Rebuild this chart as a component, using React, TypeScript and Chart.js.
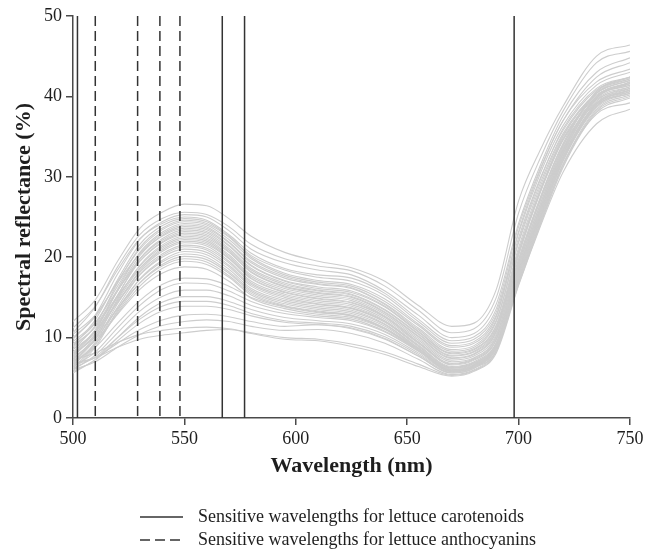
import { useEffect, useRef } from 'react';
import { Chart, registerables } from 'chart.js';

Chart.register(...registerables);

const WAVELENGTHS = [500, 510, 520, 530, 540, 550, 560, 570, 580, 595, 610, 625, 640, 655, 670, 680, 690, 700, 710, 720, 735, 750];

// Spectral reflectance (%) of each lettuce sample
const S01 = [12.0, 14.7, 19.5, 23.6, 25.6, 26.6, 26.4, 24.8, 22.6, 20.6, 19.5, 18.7, 17.0, 14.0, 11.4, 11.8, 16.0, 27.0, 33.5, 38.8, 45.0, 46.4];
const S02 = [10.6, 13.8, 18.8, 22.8, 24.8, 25.6, 25.3, 23.8, 21.6, 19.8, 18.9, 18.3, 16.4, 13.4, 10.6, 11.1, 15.0, 25.5, 32.5, 38.2, 44.2, 45.6];
const S03 = [9.8, 12.8, 17.9, 22.2, 24.4, 25.3, 25.0, 23.3, 21.0, 19.3, 18.4, 17.8, 15.8, 12.8, 10.0, 10.5, 14.2, 24.2, 31.6, 37.6, 43.0, 44.8];
const S04 = [11.2, 13.9, 18.4, 22.3, 24.2, 25.0, 24.6, 22.8, 20.5, 18.6, 17.8, 17.4, 15.5, 12.3, 9.6, 10.1, 13.6, 23.8, 31.2, 37.0, 42.4, 44.2];
const S05 = [9.0, 12.2, 17.2, 21.6, 23.9, 24.8, 24.4, 22.6, 20.2, 18.4, 17.5, 17.0, 15.2, 12.0, 9.3, 9.8, 13.2, 23.0, 30.6, 36.4, 41.4, 43.0];
const S06 = [8.5, 11.5, 16.8, 21.2, 23.6, 24.6, 24.2, 22.5, 20.0, 18.0, 17.1, 16.6, 14.8, 11.7, 9.0, 9.5, 12.8, 22.4, 30.0, 35.8, 40.8, 42.4];
const S07 = [10.0, 12.6, 17.0, 21.0, 23.4, 24.4, 24.0, 22.2, 19.8, 17.8, 16.9, 16.4, 14.5, 11.5, 8.8, 9.3, 12.6, 23.2, 31.0, 37.0, 41.8, 43.4];
const S08 = [7.8, 10.8, 16.0, 20.6, 23.1, 24.2, 23.8, 21.9, 19.5, 17.6, 16.7, 16.2, 14.2, 11.2, 8.5, 9.0, 12.2, 21.8, 29.4, 35.4, 40.4, 42.0];
const S09 = [9.2, 11.8, 16.4, 20.5, 22.9, 24.0, 23.6, 21.8, 19.3, 17.4, 16.6, 16.1, 14.1, 11.0, 8.3, 8.8, 12.0, 22.0, 29.8, 36.0, 41.0, 42.4];
const S10 = [8.0, 11.0, 15.8, 20.2, 22.7, 23.8, 23.4, 21.5, 19.0, 17.1, 16.3, 15.8, 13.9, 10.8, 8.1, 8.6, 11.6, 21.2, 29.0, 35.2, 40.2, 41.6];
const S11 = [10.4, 12.8, 16.8, 20.4, 22.6, 23.6, 23.2, 21.4, 18.9, 17.0, 16.1, 15.6, 13.8, 10.7, 8.0, 8.5, 11.4, 20.8, 28.6, 34.8, 40.0, 41.4];
const S12 = [7.2, 10.2, 15.2, 19.8, 22.3, 23.4, 23.0, 21.1, 18.6, 16.8, 15.9, 15.4, 13.5, 10.5, 7.8, 8.3, 11.2, 20.6, 28.4, 34.6, 39.6, 41.0];
const S13 = [8.8, 11.4, 15.8, 19.8, 22.1, 23.2, 22.8, 20.9, 18.4, 16.6, 15.8, 15.3, 13.4, 10.4, 7.7, 8.2, 11.0, 20.4, 28.2, 34.6, 40.0, 41.8];
const S14 = [7.6, 10.5, 15.3, 19.5, 21.9, 23.0, 22.6, 20.7, 18.2, 16.4, 15.6, 15.1, 13.2, 10.2, 7.5, 8.0, 10.8, 19.8, 27.6, 34.0, 39.2, 40.8];
const S15 = [9.5, 11.9, 15.9, 19.5, 21.8, 22.8, 22.4, 20.6, 18.1, 16.3, 15.5, 15.0, 13.1, 10.1, 7.4, 7.9, 10.7, 20.2, 28.4, 35.0, 40.4, 42.0];
const S16 = [6.8, 9.8, 14.8, 19.0, 21.5, 22.6, 22.2, 20.3, 17.8, 16.1, 15.3, 14.8, 12.9, 9.9, 7.2, 7.7, 10.4, 19.4, 27.2, 33.6, 40.0, 41.8];
const S17 = [8.2, 10.8, 15.0, 18.9, 21.3, 22.4, 22.0, 20.1, 17.6, 15.9, 15.1, 14.6, 12.7, 9.7, 7.0, 7.5, 10.2, 19.6, 27.6, 34.2, 40.6, 42.2];
const S18 = [7.0, 9.9, 14.6, 18.6, 21.1, 22.2, 21.8, 19.9, 17.4, 15.7, 14.9, 14.4, 12.6, 9.5, 6.8, 7.4, 10.0, 19.0, 26.8, 33.4, 40.0, 41.6];
const S19 = [9.0, 11.3, 15.2, 18.6, 20.9, 22.0, 21.6, 19.8, 17.3, 15.6, 14.8, 14.3, 12.5, 9.4, 6.7, 7.3, 9.8, 18.6, 26.4, 33.0, 39.8, 41.4];
const S20 = [6.5, 9.4, 14.2, 18.3, 20.7, 21.8, 21.4, 19.5, 17.0, 15.4, 14.6, 14.1, 12.3, 9.3, 6.6, 7.2, 9.7, 19.2, 27.4, 34.0, 40.6, 42.4];
const S21 = [7.8, 10.3, 14.4, 18.1, 20.4, 21.5, 21.1, 19.3, 16.8, 15.2, 14.4, 13.9, 12.1, 9.1, 6.4, 7.0, 9.4, 18.2, 26.0, 32.8, 39.6, 41.2];
const S22 = [6.2, 9.1, 13.8, 17.8, 20.2, 21.3, 20.9, 19.0, 16.6, 15.0, 14.2, 13.7, 12.0, 9.0, 6.3, 6.9, 9.2, 17.8, 25.4, 32.4, 39.2, 40.8];
const S23 = [8.5, 10.7, 14.4, 17.8, 20.0, 21.0, 20.6, 18.8, 16.4, 14.8, 14.1, 13.6, 11.9, 8.9, 6.2, 6.8, 9.3, 18.8, 26.8, 33.8, 40.4, 42.2];
const S24 = [6.0, 8.8, 13.4, 17.3, 19.6, 20.7, 20.3, 18.5, 16.1, 14.6, 13.9, 13.4, 11.7, 8.7, 6.0, 6.6, 9.0, 17.4, 25.0, 32.2, 39.0, 40.6];
const S25 = [7.4, 9.8, 13.6, 17.2, 19.4, 20.4, 20.0, 18.2, 15.9, 14.4, 13.7, 13.2, 11.6, 8.7, 6.1, 6.7, 9.2, 18.4, 26.2, 33.2, 39.8, 41.6];
const S26 = [6.6, 9.2, 13.2, 16.8, 19.1, 20.1, 19.7, 18.0, 15.7, 14.2, 13.5, 13.0, 11.4, 8.6, 5.9, 6.5, 8.8, 17.2, 24.8, 32.0, 38.8, 40.4];
const S27 = [8.0, 10.1, 13.6, 16.8, 18.9, 19.8, 19.4, 17.7, 15.5, 14.0, 13.3, 12.8, 11.2, 8.5, 5.8, 6.4, 8.7, 16.8, 24.4, 31.6, 37.8, 39.2];
const S28 = [6.8, 9.2, 13.0, 16.4, 18.6, 19.5, 19.1, 17.5, 15.3, 13.9, 13.2, 12.7, 11.1, 8.4, 5.8, 6.4, 8.8, 17.8, 25.8, 33.0, 39.4, 41.2];
const S29 = [7.5, 9.6, 12.9, 16.0, 18.0, 18.8, 18.5, 17.0, 14.9, 13.6, 12.9, 12.5, 11.0, 8.4, 5.9, 6.5, 9.0, 18.2, 26.4, 33.4, 39.8, 41.8];
const S30 = [7.0, 8.8, 11.8, 14.6, 16.6, 17.4, 17.3, 16.4, 15.0, 13.8, 13.1, 12.7, 11.1, 8.6, 6.2, 6.8, 9.2, 18.0, 25.8, 32.6, 39.0, 40.8];
const S31 = [6.4, 8.2, 11.2, 14.0, 16.0, 16.8, 16.7, 15.8, 14.5, 13.3, 12.7, 12.3, 10.8, 8.4, 6.0, 6.6, 8.9, 17.4, 25.2, 32.2, 38.8, 40.4];
const S32 = [6.0, 7.8, 10.6, 13.3, 15.1, 15.9, 15.9, 15.2, 14.0, 13.0, 12.5, 12.1, 10.7, 8.3, 5.9, 6.5, 9.0, 17.8, 25.6, 32.6, 39.2, 41.0];
const S33 = [5.6, 7.3, 10.0, 12.6, 14.4, 15.1, 15.1, 14.5, 13.5, 12.5, 12.1, 11.7, 10.4, 8.1, 5.8, 6.4, 8.6, 16.8, 24.4, 31.4, 38.2, 40.0];
const S34 = [6.2, 7.6, 10.0, 12.3, 13.9, 14.5, 14.5, 14.0, 13.0, 12.1, 11.8, 11.4, 10.1, 7.9, 5.7, 6.3, 8.7, 17.4, 25.2, 32.2, 38.8, 40.6];
const S35 = [5.8, 7.2, 9.6, 11.8, 13.3, 13.9, 13.9, 13.5, 12.7, 11.9, 11.6, 11.2, 9.9, 7.7, 5.6, 6.2, 8.4, 16.6, 24.2, 31.2, 38.0, 39.8];
const S36 = [6.6, 7.5, 9.3, 11.0, 12.2, 12.8, 12.9, 12.6, 12.0, 11.4, 11.6, 11.1, 9.8, 7.7, 5.6, 6.2, 8.8, 17.6, 25.4, 32.4, 39.0, 40.8];
const S37 = [6.0, 7.0, 8.8, 10.4, 11.5, 12.0, 12.2, 12.0, 11.4, 10.9, 11.0, 10.5, 9.3, 7.3, 5.4, 6.0, 8.4, 16.8, 24.6, 31.6, 38.4, 40.2];
const S38 = [7.2, 8.1, 9.4, 10.4, 10.9, 11.2, 11.3, 11.1, 10.6, 10.0, 9.8, 9.2, 8.2, 6.7, 5.3, 5.9, 8.3, 17.0, 25.0, 32.0, 38.6, 40.4];
const S39 = [6.8, 7.5, 8.8, 9.8, 10.3, 10.6, 10.9, 11.0, 10.5, 9.8, 9.6, 8.9, 7.9, 6.4, 5.2, 5.8, 8.1, 16.5, 24.0, 30.6, 36.6, 38.4];

const SPECTRA = [S01, S02, S03, S04, S05, S06, S07, S08, S09, S10, S11, S12, S13, S14, S15, S16, S17, S18, S19, S20,
  S21, S22, S23, S24, S25, S26, S27, S28, S29, S30, S31, S32, S33, S34, S35, S36, S37, S38, S39];

// Sensitive wavelengths (nm)
const CAROTENOID_WL = [502, 567, 577, 698];
const ANTHOCYANIN_WL = [510, 529, 539, 548];

const X_TICKS = [500, 550, 600, 650, 700, 750];
const Y_TICKS = [0, 10, 20, 30, 40, 50];

const X_TITLE = 'Wavelength (nm)';
const Y_TITLE = 'Spectral reflectance (%)';
const LEGEND_LABELS = ['Sensitive wavelengths for lettuce carotenoids', 'Sensitive wavelengths for lettuce anthocyanins'];

const FONT = "'Liberation Serif', 'Times New Roman', Times, serif";
const TEXT_COLOR = '#1e1e1e';
const AXIS_COLOR = '#4a4a4a';
const MARKER_COLOR = '#333333';
const CURVE_COLOR = '#cdcdcd';
const DASH = [10, 5];

export default function App() {
  const ref = useRef<HTMLCanvasElement>(null);

  useEffect(() => {
    document.body.style.margin = '0';
    const canvas = ref.current;
    if (!canvas) return;

    const datasets: any[] = [];
    SPECTRA.forEach((s, i) => {
      datasets.push({
        label: 'Sample ' + (i + 1),
        data: WAVELENGTHS.map((w, j) => ({ x: w, y: s[j] })),
        borderColor: CURVE_COLOR,
        borderWidth: 1.1,
        pointRadius: 0,
        fill: false,
        cubicInterpolationMode: 'monotone',
        order: 2,
      });
    });
    const yMin = Y_TICKS[0];
    const yMax = Y_TICKS[Y_TICKS.length - 1];
    CAROTENOID_WL.forEach((w) => {
      datasets.push({
        label: LEGEND_LABELS[0],
        data: [{ x: w, y: yMax }, { x: w, y: yMin }],
        borderColor: MARKER_COLOR,
        borderWidth: 1.5,
        pointRadius: 0,
        fill: false,
        order: 1,
      });
    });
    ANTHOCYANIN_WL.forEach((w) => {
      datasets.push({
        label: LEGEND_LABELS[1],
        data: [{ x: w, y: yMax }, { x: w, y: yMin }],
        borderColor: MARKER_COLOR,
        borderWidth: 1.5,
        borderDash: DASH,
        pointRadius: 0,
        fill: false,
        order: 1,
      });
    });

    const legendPlugin = {
      id: 'bottomLegend',
      afterDraw(chart: any) {
        const c = chart.ctx;
        c.save();
        const lx0 = 140;
        const lx1 = 183;
        const tx = 198;
        const rows = [517, 540];
        c.strokeStyle = MARKER_COLOR;
        c.lineWidth = 1.5;
        rows.forEach((y, i) => {
          c.setLineDash(i === 0 ? [] : DASH);
          c.beginPath();
          c.moveTo(lx0, y);
          c.lineTo(lx1, y);
          c.stroke();
        });
        c.setLineDash([]);
        c.fillStyle = TEXT_COLOR;
        c.font = '18px ' + FONT;
        c.textBaseline = 'middle';
        c.textAlign = 'left';
        rows.forEach((y, i) => c.fillText(LEGEND_LABELS[i], tx, y));
        c.restore();
      },
    };

    Chart.defaults.font.family = FONT;

    const chart = new Chart(canvas, {
      type: 'line',
      data: { datasets },
      options: {
        animation: false,
        responsive: false,
        devicePixelRatio: 1,
        layout: { padding: { left: 0, top: 16, right: 27, bottom: 60 } },
        plugins: { legend: { display: false }, tooltip: { enabled: false } },
        scales: {
          x: {
            type: 'linear',
            min: X_TICKS[0],
            max: X_TICKS[X_TICKS.length - 1],
            afterBuildTicks: (s: any) => { s.ticks = X_TICKS.map((v) => ({ value: v })); },
            afterFit: (s: any) => { s.height = 73; },
            grid: { drawOnChartArea: false, drawTicks: true, tickLength: 7, color: AXIS_COLOR, lineWidth: 1.5 },
            border: { display: true, color: AXIS_COLOR, width: 1.5 },
            ticks: { font: { size: 18, family: FONT }, color: TEXT_COLOR, padding: 3, maxRotation: 0, autoSkip: false },
            title: { display: true, text: X_TITLE, color: TEXT_COLOR, font: { size: 22, weight: 'bold', family: FONT }, padding: { top: 0, bottom: 11 } },
          },
          y: {
            type: 'linear',
            min: yMin,
            max: yMax,
            afterBuildTicks: (s: any) => { s.ticks = Y_TICKS.map((v) => ({ value: v })); },
            afterFit: (s: any) => { s.width = 73; },
            grid: { drawOnChartArea: false, drawTicks: true, tickLength: 7, color: AXIS_COLOR, lineWidth: 1.5 },
            border: { display: true, color: AXIS_COLOR, width: 1.5 },
            ticks: { font: { size: 18, family: FONT }, color: TEXT_COLOR, padding: 4, autoSkip: false },
            title: { display: true, text: Y_TITLE, color: TEXT_COLOR, font: { size: 22, weight: 'bold', family: FONT }, padding: { top: 11, bottom: 0 } },
          },
        },
      },
      plugins: [legendPlugin],
    });

    return () => chart.destroy();
  }, []);

  return (
    <div style={{ position: 'absolute', left: 0, top: 0, width: 657, height: 551 }}>
      <canvas ref={ref} width={657} height={551} style={{ width: 657, height: 551, display: 'block' }} />
    </div>
  );
}
